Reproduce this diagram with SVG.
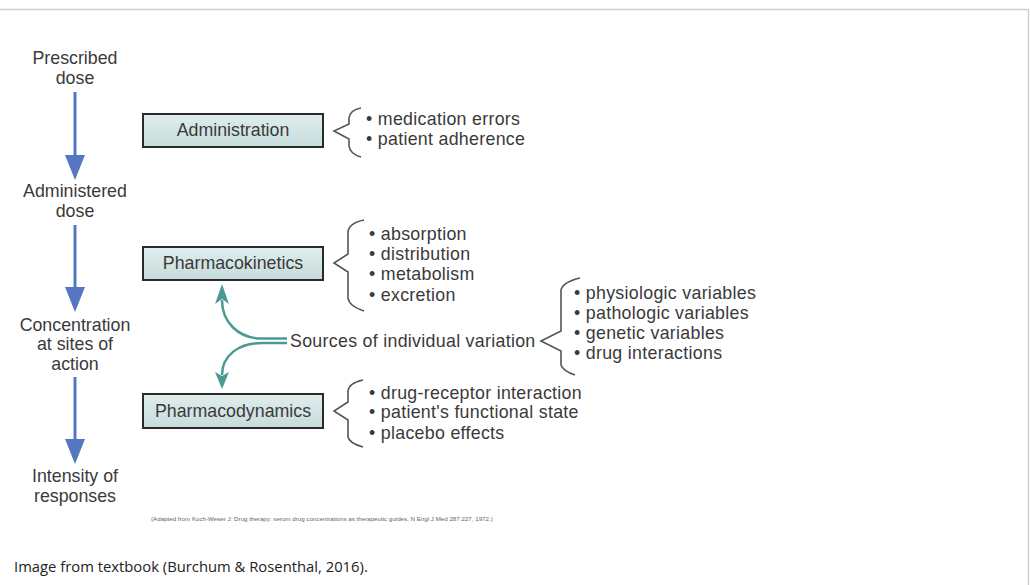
<svg xmlns="http://www.w3.org/2000/svg" width="1030" height="585" viewBox="0 0 1030 585">
<defs>
<linearGradient id="boxg" x1="0" y1="0" x2="0" y2="1">
<stop offset="0" stop-color="#e0eded"/>
<stop offset="1" stop-color="#c6dcdb"/>
</linearGradient>
<style>
.t{font-family:"Liberation Sans",Arial,sans-serif;font-size:17.8px;fill:#3a3a3a}
.b{letter-spacing:0.3px}
.c{text-anchor:middle}
.box{fill:url(#boxg);stroke:#2a2a2a;stroke-width:2}
.br{fill:none;stroke:#555;stroke-width:1.6}
.va{stroke:#5577c2;stroke-width:3;fill:none}
.tl{stroke:#4a9a94;stroke-width:2.5;fill:none}
.ah{fill:#5577c2}
.th{fill:#4a9a94}
</style>
</defs>
<rect width="1030" height="585" fill="#fff"/>
<line x1="0" y1="9.5" x2="1028" y2="9.5" stroke="#d0d0d0" stroke-width="1.5"/>
<line x1="1028.5" y1="9" x2="1028.5" y2="585" stroke="#d0d0d0" stroke-width="1.5"/>

<g id="connectors">
<line class="va" x1="75" y1="92" x2="75" y2="156"/>
<path class="ah" d="M65,155 L85,155 L75,180 Z"/>
<line class="va" x1="75" y1="225" x2="75" y2="288"/>
<path class="ah" d="M65,287 L85,287 L75,312 Z"/>
<line class="va" x1="75" y1="377" x2="75" y2="440"/>
<path class="ah" d="M65,439 L85,439 L75,464 Z"/>
<path class="tl" d="M287,338.5 L262,338.5 C238,338.5 222,322 222,300"/>
<path class="th" d="M215,304 L222,284 L229,304 L222,299 Z"/>
<path class="tl" d="M287,343 L262,343 C238,343 222,356 222,375"/>
<path class="th" d="M215,372 L222,389 L229,372 L222,376 Z"/>
</g>

<g id="prescribed">
<text class="t c" x="75" y="64">Prescribed</text>
<text class="t c" x="75" y="84">dose</text>
</g>
<g id="administered">
<text class="t c" x="75" y="197">Administered</text>
<text class="t c" x="75" y="217">dose</text>
</g>
<g id="concentration">
<text class="t c" x="75" y="331">Concentration</text>
<text class="t c" x="75" y="350">at sites of</text>
<text class="t c" x="75" y="370">action</text>
</g>
<g id="intensity">
<text class="t c" x="75" y="482">Intensity of</text>
<text class="t c" x="75" y="502">responses</text>
</g>

<g id="administration">
<rect class="box" x="143" y="114" width="180" height="33"/>
<text class="t c" x="233" y="136">Administration</text>
<path class="br" d="M361,108 Q350,110 349,118 L349,124 L334,131 L349,139 L349,146 Q350,154 361,157"/>
<text class="t b" x="366" y="125">• medication errors</text>
<text class="t b" x="366" y="145">• patient adherence</text>
</g>

<g id="pharmacokinetics">
<rect class="box" x="143" y="247" width="180" height="33"/>
<text class="t c" x="233" y="269">Pharmacokinetics</text>
<path class="br" d="M364,220 Q349,223 348,232 L348,254 L334,263 L348,272 L348,298 Q349,306 364,311"/>
<text class="t b" x="369" y="240">• absorption</text>
<text class="t b" x="369" y="260">• distribution</text>
<text class="t b" x="369" y="280">• metabolism</text>
<text class="t b" x="369" y="301">• excretion</text>
</g>

<g id="sources">
<text class="t b" x="290" y="347">Sources of individual variation</text>
<path class="br" d="M580,278 Q563,282 561,290 L561,331 L541,341 L561,351 L561,365 Q563,371 575,375"/>
<text class="t b" x="574" y="299">• physiologic variables</text>
<text class="t b" x="574" y="319">• pathologic variables</text>
<text class="t b" x="574" y="339">• genetic variables</text>
<text class="t b" x="574" y="359">• drug interactions</text>
</g>

<g id="pharmacodynamics">
<rect class="box" x="143" y="394" width="180" height="34"/>
<text class="t c" x="233" y="417">Pharmacodynamics</text>
<path class="br" d="M363,380 Q349,383 348,391 L348,402 L334,411 L348,420 L348,437 Q349,443 363,447"/>
<text class="t b" x="369" y="399">• drug-receptor interaction</text>
<text class="t b" x="369" y="418">• patient's functional state</text>
<text class="t b" x="369" y="439">• placebo effects</text>
</g>

<g id="footnote">
<text x="151" y="521" style="font-family:'Liberation Sans',Arial,sans-serif;font-size:6.2px;fill:#666">(Adapted from Koch-Weser J: Drug therapy: serum drug concentrations as therapeutic guides. N Engl J Med 287:227, 1972.)</text>
</g>
<g id="caption">
<text x="14" y="572" style="font-family:'Open Sans',sans-serif;font-size:14.8px;fill:#222">Image from textbook (Burchum &amp; Rosenthal, 2016).</text>
</g>
</svg>
